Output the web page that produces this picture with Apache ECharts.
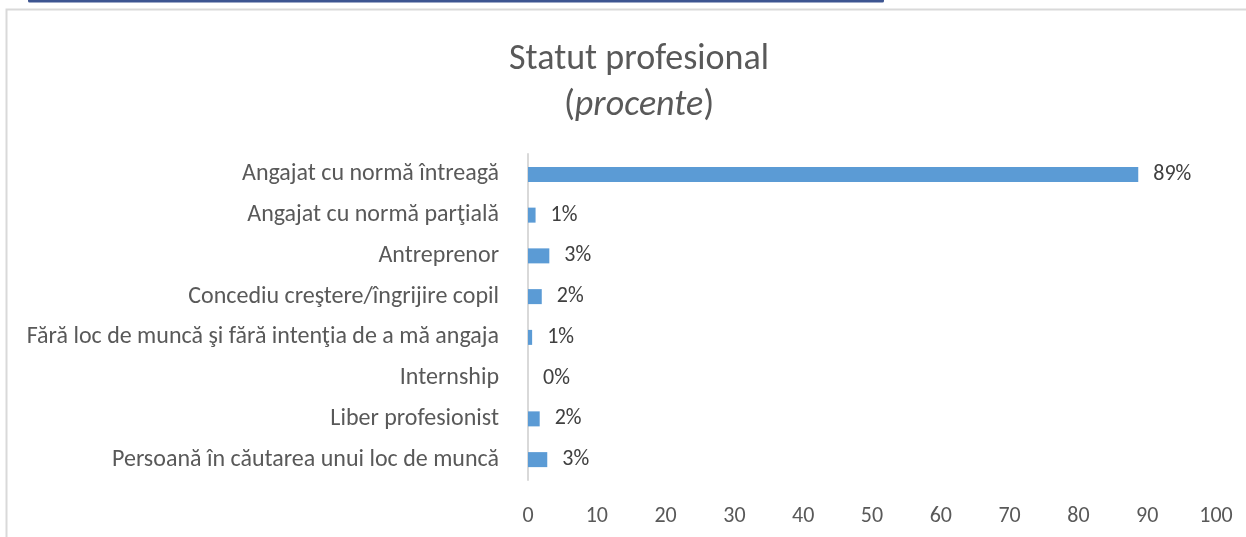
<!DOCTYPE html>
<html>
<head>
<meta charset="utf-8">
<script src="https://cdn.jsdelivr.net/npm/echarts@6/dist/echarts.min.js"></script>
<style>
html,body{margin:0;padding:0;background:#fff;}
#chart{width:1246px;height:537px;}
</style>
</head>
<body>
<div id="chart"></div>
<script>
const categories = [
  'Angajat cu normă întreagă',
  'Angajat cu normă parţială',
  'Antreprenor',
  'Concediu creştere/îngrijire copil',
  'Fără loc de muncă şi fără intenţia de a mă angaja',
  'Internship',
  'Liber profesionist',
  'Persoană în căutarea unui loc de muncă'
];
const values = [88.7, 1.1, 3.1, 2.0, 0.6, 0, 1.7, 2.8];
const xTicks = [0, 10, 20, 30, 40, 50, 60, 70, 80, 90, 100];

const FONT = 'Carlito, Lato, "Open Sans", sans-serif';
const chart = echarts.init(document.getElementById('chart'), null, {renderer: 'canvas'});
chart.setOption({
  backgroundColor: '#ffffff',
  animation: false,
  title: {
    text: '{a|Statut profesional}\n{n|(}{i|procente}{n|)}',
    left: 634,
    textAlign: 'center',
    top: 32,
    textStyle: {
      fontWeight: 'normal',
      rich: {
        a: {fontFamily: FONT, fontSize: 36, fontWeight: 'normal', color: '#595959', lineHeight: 46},
        n: {fontFamily: FONT, fontSize: 36, fontWeight: 'normal', color: '#595959', lineHeight: 46},
        i: {fontFamily: FONT, fontSize: 36, fontWeight: 'normal', color: '#595959', fontStyle: 'italic', lineHeight: 46}
      }
    }
  },
  graphic: [
    {type: 'rect', shape: {x: 6.5, y: 9.5, width: 1300, height: 600}, style: {fill: 'none', stroke: '#d9d9d9', lineWidth: 2}, silent: true, z: -1},
    {type: 'rect', shape: {x: 28, y: -1, width: 856, height: 3.5, r: 1.5}, style: {fill: '#3d5591'}, silent: true}
  ],
  grid: {left: 528, right: 30, top: 154, bottom: 57, containLabel: false},
  xAxis: {
    type: 'value',
    min: xTicks[0],
    max: xTicks[xTicks.length - 1],
    interval: 10,
    splitLine: {show: false},
    axisLine: {show: false},
    axisTick: {show: false},
    axisLabel: {color: '#595959', fontFamily: FONT, fontSize: 22, margin: 25}
  },
  yAxis: {
    type: 'category',
    inverse: true,
    data: categories,
    axisLine: {show: true, lineStyle: {color: '#d9d9d9', width: 2}},
    axisTick: {show: false},
    axisLabel: {color: '#595959', fontFamily: FONT, fontSize: 24, margin: 29}
  },
  series: [{
    type: 'bar',
    data: values,
    barWidth: 15,
    itemStyle: {color: '#5b9bd5'},
    label: {
      show: true,
      position: 'right',
      distance: 15,
      color: '#404040',
      fontFamily: FONT,
      fontSize: 22,
      formatter: p => Math.round(p.value) + '%'
    }
  }]
});
</script>
</body>
</html>
